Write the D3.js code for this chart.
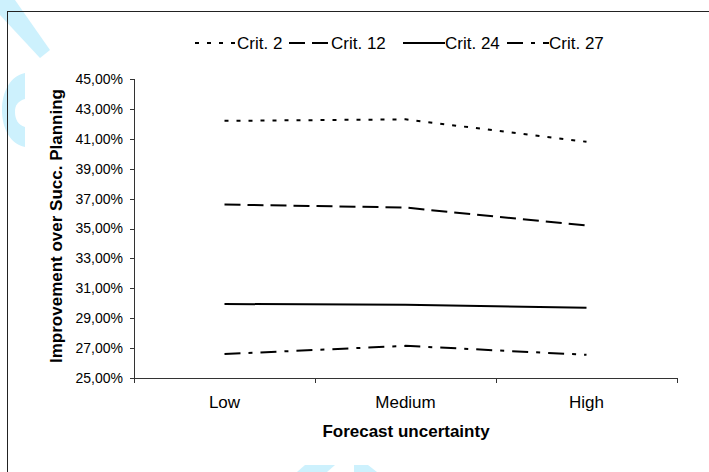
<!DOCTYPE html>
<meta charset="utf-8">
<style>
body{margin:0;background:#fff;}
text{font-family:"Liberation Sans",Arial,sans-serif;fill:#000;}
.tick text{font-size:14px;}
.axis path,.axis line{stroke:#333;shape-rendering:crispEdges;}
.serie{fill:none;stroke:#000;stroke-width:2;}
</style>
<body>
<script src="https://d3js.org/d3.v7.min.js"></script>
<script>

var categories=["Low","Medium","High"];
var seriesNames=["Crit. 2","Crit. 12","Crit. 24","Crit. 27"];
var crit2=[42.2,42.3,40.8];
var crit12=[36.6,36.4,35.2];
var crit24=[29.95,29.9,29.7];
var crit27=[26.6,27.15,26.55];
var yTicks=[25,27,29,31,33,35,37,39,41,43,45];
var dashes=["4,8","16,7",null,"16,8,4,8"];

var series=[crit2,crit12,crit24,crit27].map(function(v,i){
	return {name:seriesNames[i],values:v,dash:dashes[i]};
});

var svg=d3.select("body").append("svg").attr("width",709).attr("height",472);

// watermark remnants
var wm=svg.append("g").attr("fill","#cdf1fd");
wm.append("path").attr("d","M0,0L15,0L50,50L40,58L0,15Z");
wm.append("path").attr("fill-rule","evenodd")
	.attr("d","M25,73C10,76 2,92 2,110C2,128 10,144 25,147L25,127C18,125 15,119 15,112C15,105 18,101 25,99Z");
wm.append("path").attr("d","M305,465L335,465L327,472L297,472Z");
wm.append("path").attr("d","M354,465L368,465L377,472L354,472Z");

// chart frame
svg.append("rect").attr("x",7.5).attr("y",11.5).attr("width",720).attr("height",480)
	.attr("fill","none").attr("stroke","#222");

var x=d3.scaleBand().domain(categories).range([134,677]);
var y=d3.scaleLinear().domain([25,45]).range([378,79]);

svg.append("g").attr("class","axis").attr("transform","translate(134,0)")
	.call(d3.axisLeft(y).tickValues(yTicks).tickSize(4).tickPadding(7)
		.tickFormat(function(d){return d.toFixed(2).replace(".",",")+"%";}));

var xa=svg.append("g").attr("class","axis").attr("transform","translate(0,378)")
	.call(d3.axisBottom(x).tickSize(0).tickPadding(18).tickSizeOuter(0));
xa.selectAll(".tick text").style("font-size","17px");
xa.selectAll(".bnd").data(categories.map(function(c){return x(c);}).concat([x.range()[1]]))
	.enter().append("line").attr("class","bnd")
	.attr("x1",function(d){return d;}).attr("x2",function(d){return d;})
	.attr("y1",0).attr("y2",5);

var line=d3.line()
	.x(function(d,i){return x(categories[i])+x.bandwidth()/2;})
	.y(function(d){return y(d);});

svg.selectAll(".serie").data(series).enter().append("path").attr("class","serie")
	.attr("d",function(d){return line(d.values);})
	.attr("stroke-dasharray",function(d){return d.dash;});

// axis titles
svg.append("text").attr("transform","translate(62,226) rotate(-90)")
	.attr("text-anchor","middle").style("font-size","17px").style("font-weight","bold")
	.text("Improvement over Succ. Planning");
svg.append("text").attr("x",406).attr("y",437)
	.attr("text-anchor","middle").style("font-size","17px").style("font-weight","bold")
	.text("Forecast uncertainty");

// legend
var legX=[195,289,403,507];
var leg=svg.selectAll(".leg").data(series).enter().append("g").attr("class","leg")
	.attr("transform",function(d,i){return "translate("+legX[i]+",43)";});
leg.append("line").attr("x1",0).attr("x2",42).attr("stroke","#000").attr("stroke-width",2)
	.attr("stroke-dasharray",function(d){return d.dash;});
leg.append("text").attr("x",42).attr("y",6).style("font-size","17px").text(function(d){return d.name;});

</script>
</body>
